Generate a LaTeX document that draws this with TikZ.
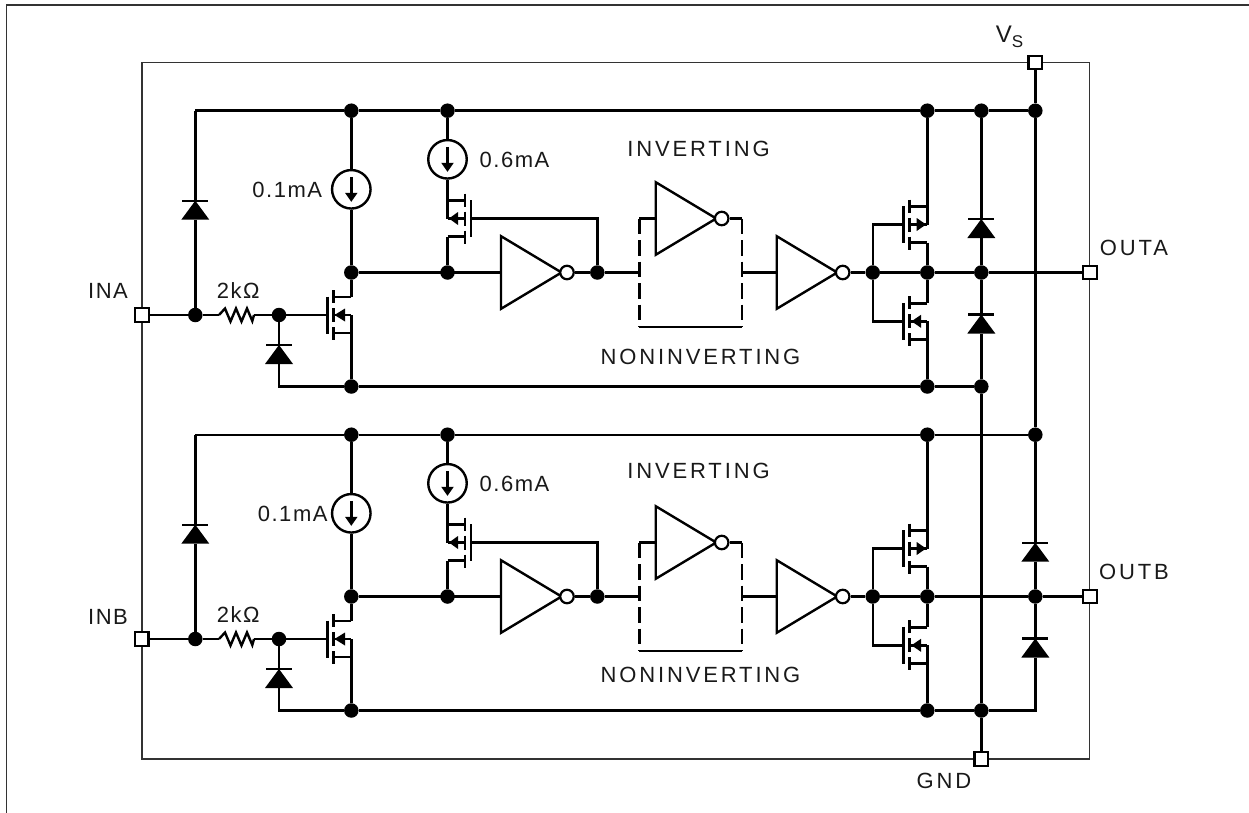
\documentclass[tikz,border=0pt]{standalone}
\usepackage{fontspec}
\setmainfont{Liberation Sans}
\newfontfamily\capsfont[LetterSpace=13]{Liberation Sans}
\newfontfamily\mixfont[LetterSpace=7]{Liberation Sans}
\newcommand{\mos}[8]{%
  % name, gate x, channel x, rail x, centre y, arrow tip x, arrow base x, sign towards joined terminal
  \coordinate (g#1) at (#2,#5);
  \coordinate (t#1) at (#4,#5-18);
  \coordinate (b#1) at (#4,#5+18);
  \coordinate (m#1) at (#4,#5);
  \draw[wire] (#2,#5-18.5) -- (#2,#5+18.5);
  \draw[wire] (#3,#5-25) -- (#3,#5-12);
  \draw[wire] (#3,#5-7) -- (#3,#5+7);
  \draw[wire] (#3,#5+12) -- (#3,#5+25);
  \draw[wire] (t#1) -- (#3,#5-18);
  \draw[wire] (b#1) -- (#3,#5+18);
  \draw[wire] (m#1) -- (#3,#5);
  \draw[wire] (m#1) -- (#4,#5+#8*18);
  \fill (#6,#5) -- (#7,#5-6.5) -- (#7,#5+6.5) -- cycle;
}
\newcommand{\diode}[3]{%
  % x, bar y, name
  \coordinate (k#3) at (#1,#2);
  \coordinate (a#3) at (#1,#2+19);
  \fill (#1,#2) -- (#1-14,#2+19) -- (#1+14,#2+19) -- cycle;
  \draw[wire] (#1-13,#2) -- (#1+13,#2);
}
\newcommand{\csrc}[3]{%
  % name, x, y
  \node[srcring] (#1) at (#2,#3) {};
  \draw[wire] (#2,#3-12.5) -- (#2,#3+6);
  \fill (#2,#3+12.5) -- (#2-6.3,#3+3.5) -- (#2+6.3,#3+3.5) -- cycle;
}
\newcommand{\inv}[3]{%
  % name, left x, y
  \coordinate (i#1) at (#2,#3);
  \draw[wire,line join=miter] (#2,#3-36.3) -- (#2,#3+36.3) -- (#2+60.5,#3) -- cycle;
  \node[bubble] (o#1) at (#2+66,#3) {};
}
\begin{document}
\begin{tikzpicture}[x=1pt,y=-1pt,
  wire/.style={line width=2.4pt,black},
  thin line/.style={line width=1.5pt,black!80},
  dot/.style={circle,fill=black,inner sep=0pt,minimum size=14.5pt},
  pin/.style={rectangle,draw=black,fill=white,line width=2.4pt,inner sep=0pt,minimum size=13.5pt},
  srcring/.style={circle,draw=black,fill=white,line width=2.4pt,inner sep=0pt,minimum size=38.5pt},
  bubble/.style={circle,draw=black,fill=white,line width=2.2pt,inner sep=0pt,minimum size=13.5pt},
  dashwire/.style={line width=2.4pt,black,dash pattern=on 15.5pt off 6pt},
  lab/.style={inner sep=0pt,text=black!90,font=\fontsize{22}{26}\selectfont\capsfont},
  mixlab/.style={inner sep=0pt,text=black!90,font=\fontsize{22}{26}\selectfont\mixfont}
]
\useasboundingbox (0,0) rectangle (1249,813);
% outer frame and package outline
\draw[thin line] (6.5,813) -- (6.5,5) -- (1249,5);
\draw[thin line] (142,62.5) rectangle (1089.3,759);
% the two channels
\foreach \s/\dy in {A/0,B/324}{
\begin{scope}[shift={(0,\dy)}]
  \coordinate (tl\s) at (195.3,110.7);
  \coordinate (gl\s) at (279,386.5);
  \node[dot] (t1\s) at (351.3,110.7) {};
  \node[dot] (t2\s) at (447.5,110.7) {};
  \node[dot] (t3\s) at (927.3,110.7) {};
  \node[dot] (in\s) at (195.3,315) {};
  \node[dot] (n\s) at (279,315) {};
  \node[dot] (d1\s) at (351.3,272.5) {};
  \node[dot] (d2\s) at (447.5,272.5) {};
  \node[dot] (fb\s) at (597.3,272.5) {};
  \node[dot] (oi\s) at (872.7,272.5) {};
  \node[dot] (oo\s) at (927.3,272.5) {};
  \node[dot] (b1\s) at (351.3,386.5) {};
  \node[dot] (b3\s) at (927.3,386.5) {};
  % input
  \coordinate (r1\s) at (219,315);
  \coordinate (r2\s) at (254,315);
  \draw[wire] (in\s) -- (r1\s);
  \draw[wire,line join=miter] (r1\s) -- (225,308.5) -- (230.5,321.5) -- (236,308.5) -- (241.5,321.5) -- (247,308.5) -- (252.3,321) -- (r2\s);
  \draw[wire] (r2\s) -- (n\s);
  \diode{195.3}{200.7}{du\s}
  \draw[wire] (in\s) -- (adu\s);
  \draw[wire] (kdu\s) -- (tl\s);
  \diode{279}{345}{dg\s}
  \draw[wire] (n\s) -- (kdg\s);
  \draw[wire,line join=miter] (adg\s) -- (gl\s) -- (b1\s);
  % sources and first stage
  \csrc{c1\s}{351.3}{189.3}
  \csrc{c2\s}{447.5}{159.3}
  \draw[wire] (t1\s) -- (c1\s);
  \draw[wire] (c1\s) -- (d1\s);
  \draw[wire] (t2\s) -- (c2\s);
  \mos{mn\s}{327.3}{333.3}{351.3}{315}{334.5}{345}{1}
  \mos{mp\s}{471}{465}{447.5}{218.5}{449}{458}{-1}
  \draw[wire] (n\s) -- (gmn\s);
  \draw[wire] (d1\s) -- (tmn\s);
  \draw[wire] (bmn\s) -- (b1\s);
  \draw[wire] (c2\s) -- (tmp\s);
  \draw[wire] (bmp\s) -- (d2\s);
  \draw[wire,line join=miter] (gmp\s) -- (597.3,218.5) -- (fb\s);
  % inverters
  \inv{x1\s}{501}{272.5}
  \inv{x2\s}{655.7}{218.5}
  \inv{x3\s}{776.7}{272.5}
  \draw[wire] (d1\s) -- (ix1\s);
  \draw[wire] (ox1\s) -- (fb\s);
  \coordinate (sl\s) at (639.3,272.5);
  \coordinate (sr\s) at (741.7,272.5);
  \coordinate (slt\s) at (639.3,218.5);
  \coordinate (srt\s) at (741.7,218.5);
  \coordinate (slb\s) at (639.3,326.7);
  \coordinate (srb\s) at (741.7,326.7);
  \draw[wire] (fb\s) -- (sl\s);
  \draw[wire] (sr\s) -- (ix3\s);
  \draw[wire] (slt\s) -- (ix2\s);
  \draw[wire] (ox2\s) -- (srt\s);
  \draw[dashwire] (slt\s) -- (slb\s);
  \draw[dashwire] (srt\s) -- (srb\s);
  \draw[wire] (slb\s) -- (srb\s);
  \draw[wire] (ox3\s) -- (oi\s);
  \draw[wire] (oi\s) -- (oo\s);
  % output stage
  \mos{pu\s}{903.3}{909.3}{927.3}{224.5}{926}{916.7}{-1}
  \mos{pd\s}{903.3}{909.3}{927.3}{321.3}{911.5}{921}{1}
  \draw[wire,line join=miter] (oi\s) |- (gpu\s);
  \draw[wire,line join=miter] (oi\s) |- (gpd\s);
  \draw[wire] (t3\s) -- (tpu\s);
  \draw[wire] (bpu\s) -- (oo\s);
  \draw[wire] (oo\s) -- (tpd\s);
  \draw[wire] (bpd\s) -- (b3\s);
  % rails
  \draw[wire,line join=miter] (t1\s) -- (tl\s);
  \draw[wire] (t1\s) -- (t2\s);
  \draw[wire] (t2\s) -- (t3\s);
  \draw[wire] (b1\s) -- (b3\s);
\end{scope}
}
% shared nodes on the right
\node[dot] (vt) at (1035.3,110.7) {};
\node[dot] (vb) at (1035.3,434.7) {};
\node[dot] (kt) at (981.3,110.7) {};
\node[dot] (oA) at (981.3,272.5) {};
\node[dot] (gA) at (981.3,386.5) {};
\node[dot] (gB) at (981.3,710.5) {};
\node[dot] (oB) at (1035.3,596.5) {};
\coordinate (cn) at (1035.3,710.5);
\draw[wire] (t3A) -- (kt);
\draw[wire] (kt) -- (vt);
\draw[wire] (t3B) -- (vb);
\draw[wire] (b3A) -- (gA);
\draw[wire] (b3B) -- (gB);
\diode{981.3}{219}{da}
\diode{981.3}{314.5}{db}
\diode{1035.3}{542.7}{dc}
\diode{1035.3}{638.5}{dd}
\draw[wire,line join=miter] (gB) -- (cn) -- (add);
\draw[wire] (kt) -- (kda);
\draw[wire] (ada) -- (oA);
\draw[wire] (oA) -- (kdb);
\draw[wire] (adb) -- (gA);
\draw[wire] (vb) -- (kdc);
\draw[wire] (adc) -- (oB);
\draw[wire] (oB) -- (kdd);
% pins
\node[pin] (vs) at (1035.3,62.5) {};
\node[pin] (gnd) at (981.3,759) {};
\node[pin] (ina) at (142,315) {};
\node[pin] (inb) at (141.7,639) {};
\node[pin] (outa) at (1090,272.5) {};
\node[pin] (outb) at (1090,596.5) {};
\draw[wire] (vs) -- (vt);
\draw[wire] (vt) -- (vb);
\draw[wire] (gA) -- (gB);
\draw[wire] (gB) -- (gnd);
\draw[wire] (ina) -- (inA);
\draw[wire] (inb) -- (inB);
\draw[wire] (ooA) -- (oA);
\draw[wire] (oA) -- (outa);
\draw[wire] (ooB) -- (oB);
\draw[wire] (oB) -- (outb);
% labels
\node[mixlab] (l1) at (287.3,189.5) {0.1mA};
\node[mixlab] (l2) at (514.5,159.5) {0.6mA};
\node[mixlab] (l3) at (292.7,513.5) {0.1mA};
\node[mixlab] (l4) at (514.5,483.5) {0.6mA};
\node[mixlab] (l5) at (238.3,290.5) {2kΩ};
\node[mixlab] (l6) at (238.3,614.5) {2kΩ};
\node[lab] (l7) at (698.5,149) {INVERTING};
\node[lab] (l8) at (698.5,470.5) {INVERTING};
\node[lab] (l9) at (700.5,357) {NONINVERTING};
\node[lab] (l10) at (700.5,675) {NONINVERTING};
\node[mixlab] (l11) at (108,290.5) {INA};
\node[mixlab] (l12) at (108,617) {INB};
\node[lab] (l13) at (1134,247.5) {OUTA};
\node[lab] (l14) at (1134,571.5) {OUTB};
\node[lab] (l15) at (944,781) {GND};
\node[inner sep=0pt,text=black!90,font=\fontsize{24}{28}\selectfont] (l16) at (1009.5,37) {V\raisebox{-4.5pt}{\fontsize{17}{20}\selectfont S}};
\end{tikzpicture}
\end{document}
